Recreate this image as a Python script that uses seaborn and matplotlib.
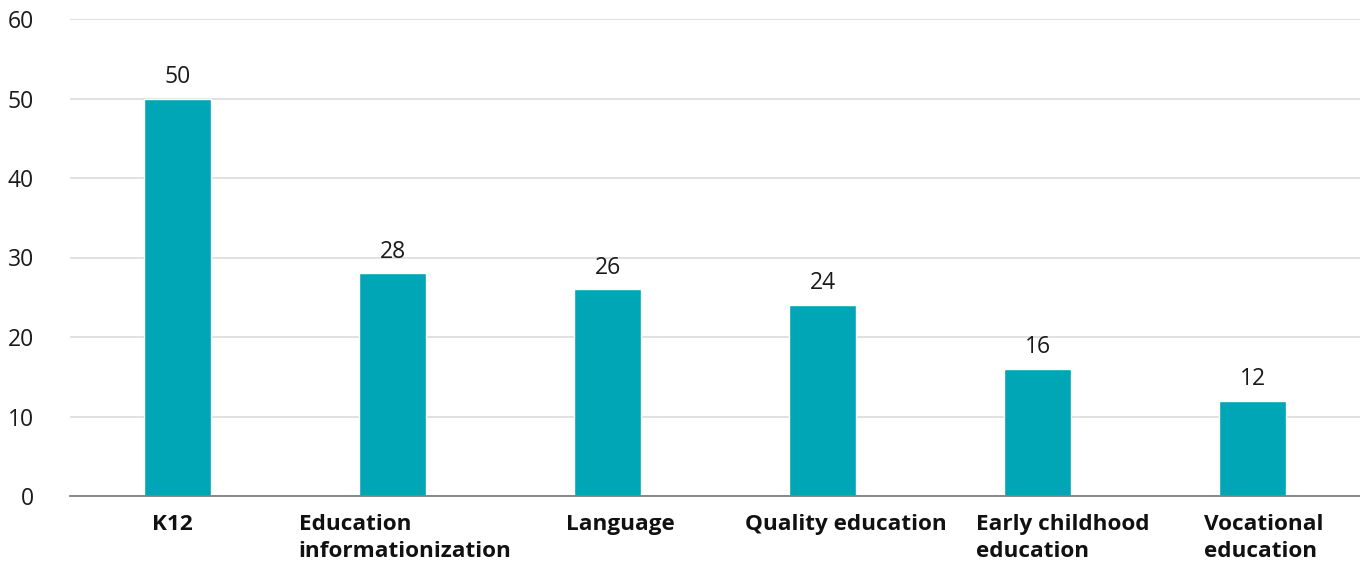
import matplotlib
matplotlib.use("Agg")
import matplotlib.pyplot as plt
import matplotlib.transforms as mtransforms
import seaborn as sns
import pandas as pd

categories = ["K12", "Education\ninformationization", "Language",
              "Quality education", "Early childhood\neducation", "Vocational\neducation"]
values = [50, 28, 26, 24, 16, 12]
y_ticks = [0, 10, 20, 30, 40, 50, 60]

# horizontal nudge (in points) for each category label
label_nudge = [-4, 9, 9, 17, 18, 8]

sns.set_theme(style="white")
plt.rcParams["font.family"] = ["Open Sans", "DejaVu Sans"]

df = pd.DataFrame({"category": categories, "value": values})

fig = plt.figure(figsize=(13.6, 5.62), dpi=100)
ax = fig.add_axes([70 / 1360, 1 - 496 / 562, 1 - 70 / 1360, (496 - 19) / 562])

sns.barplot(data=df, x="category", y="value", color="#00A6B6", width=0.31,
            saturation=1, ax=ax, zorder=3)

ax.set_ylim(0, 60)
ax.set_xlim(-0.5, len(categories) - 0.5)
ax.set_yticks(y_ticks)
ax.set_yticklabels([str(t) for t in y_ticks], fontsize=16.5, color="#1a1a1a")
ax.tick_params(axis="y", length=0, pad=26)
ax.tick_params(axis="x", length=0, pad=13)
for lbl, dx in zip(ax.get_xticklabels(), label_nudge):
    lbl.set_fontsize(16.2)
    lbl.set_fontweight("bold")
    lbl.set_color("#111111")
    lbl.set_multialignment("left")
    lbl.set_linespacing(1.4)
    lbl.set_verticalalignment("top")
    lbl.set_transform(lbl.get_transform() +
                      mtransforms.ScaledTranslation(dx / 72, 0, fig.dpi_scale_trans))

ax.grid(axis="y", color="#dcdcdc", linewidth=1.2, zorder=0)
ax.grid(axis="x", visible=False)
for side in ["top", "right", "left"]:
    ax.spines[side].set_visible(False)
ax.spines["bottom"].set_color("#7f7f7f")
ax.spines["bottom"].set_linewidth(1.3)
ax.spines["bottom"].set_zorder(4)
ax.set_xlabel("")
ax.set_ylabel("")

for i, v in enumerate(values):
    ax.annotate(str(v), xy=(i, v), xytext=(0, 7), textcoords="offset points",
                ha="center", va="bottom", fontsize=16.5, color="#1a1a1a")

fig.savefig("out.png", dpi=100)
